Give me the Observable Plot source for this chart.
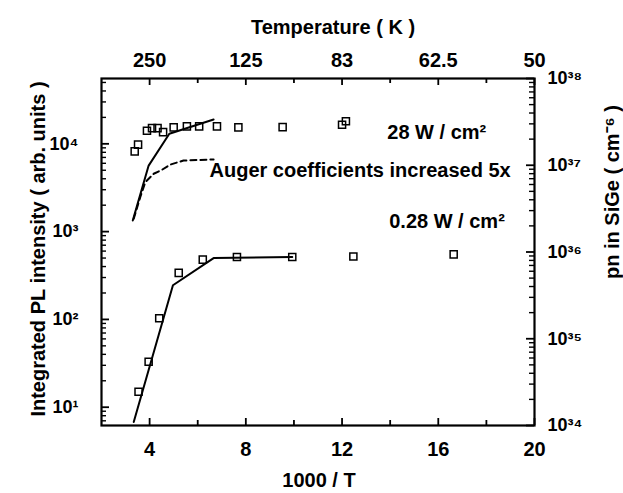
<!DOCTYPE html>
<html><head><meta charset="utf-8">
<script src="https://cdn.jsdelivr.net/npm/d3@7"></script>
<script src="https://cdn.jsdelivr.net/npm/@observablehq/plot@0.6"></script>
<style>
html,body{margin:0;padding:0;background:#fff;}
</style></head><body><div id="chart"></div>
<script>
// 28 W/cm2 measured points
const highX = [3.38, 3.52, 3.89, 4.10, 4.33, 4.56, 5.00, 5.55, 6.06, 6.80, 7.69, 9.53, 12.00, 12.16];
const highY = [8200, 9800, 14100, 15100, 15100, 13600, 15400, 15800, 15800, 15800, 15400, 15500, 16500, 18100];
// 0.28 W/cm2 measured points
const lowX = [3.54, 3.96, 4.40, 5.21, 6.21, 7.63, 9.93, 12.47, 16.64];
const lowY = [15, 33, 103, 339, 480, 513, 513, 520, 550];
// model curves
const highFitX = [3.30, 3.96, 4.82, 6.66];
const highFitY = [1340, 5650, 13000, 18900];
const augerX = [3.34, 3.61, 3.82, 4.17, 4.51, 4.86, 5.41, 6.66];
const augerY = [1400, 2470, 3650, 4560, 5050, 5800, 6450, 6640];
const lowFitX = [3.34, 4.97, 6.66, 9.93];
const lowFitY = [6.8, 245, 500, 513];
// axes
const xMajor = [4, 8, 12, 16, 20];
const xMinor = [6, 10, 14, 18];
const xLabels = ["4", "8", "12", "16", "20"];
const tempLabels = ["250", "125", "83", "62.5", "50"];
const yMajor = [10, 100, 1000, 10000];
const yLabels = ["10¹", "10²", "10³", "10⁴"];
const pnMajor = [1e34, 1e35, 1e36, 1e37, 1e38];
const pnLabels = ["10³⁴", "10³⁵", "10³⁶", "10³⁷", "10³⁸"];
const notes = ["28 W / cm²", "Auger coefficients increased 5x", "0.28 W / cm²"];
const noteX = [13.88, 6.49, 13.96];
const noteY = [13450, 4960, 1303];

const W = 623, H = 493, mL = 101, mR = 89, mT = 78, mB = 68;
const xDomain = [2, 20];
const yDomain = [6.19, 55460];
const pnDomain = [1e34, 1e38];
const lo = Math.log10(yDomain[0]), hi = Math.log10(yDomain[1]);
const pnToY = v => Math.pow(10, lo + (Math.log10(v) - 34) / 4 * (hi - lo));

// tick lengths expressed in data units
const pxX = (W - mL - mR) / (xDomain[1] - xDomain[0]);
const pxDec = (H - mT - mB) / (hi - lo);
const up = px => Math.pow(10, px / pxDec);

const rows = (xs, ys) => xs.map((x, i) => ({x, y: ys[i]}));
const yAll = d3.scaleLog().domain(yDomain).ticks();
const yMinor = yAll.filter(v => !yMajor.includes(v));
const pnAll = d3.scaleLog().domain(pnDomain).ticks();
const pnMinor = pnAll.filter(v => !pnMajor.some(m => Math.abs(m - v) / m < 1e-9));
const pnMajorY = pnMajor.map(pnToY);
const pnMinorY = pnMinor.map(pnToY);

const F = {fontSize: 20, fontWeight: "bold"};
const S = {fontSize: 18, fontWeight: "bold"};
const K = {stroke: "#000", strokeWidth: 1.8};
const k = {stroke: "#000", strokeWidth: 1.4};

const chart = Plot.plot({
  width: W, height: H,
  marginLeft: mL, marginRight: mR, marginTop: mT, marginBottom: mB,
  style: {fontFamily: "'Liberation Sans', Arial, sans-serif", background: "#fff", color: "#000"},
  x: {domain: xDomain, label: null, axis: null},
  y: {type: "log", domain: yDomain, label: null, axis: null},
  marks: [
    Plot.frame({stroke: "#000", strokeWidth: 2.2}),
    // data
    Plot.line(rows(highFitX, highFitY), {x: "x", y: "y", stroke: "#000", strokeWidth: 2}),
    Plot.line(rows(augerX, augerY), {x: "x", y: "y", stroke: "#000", strokeWidth: 2, strokeDasharray: "6,4"}),
    Plot.line(rows(lowFitX, lowFitY), {x: "x", y: "y", stroke: "#000", strokeWidth: 2}),
    Plot.dot(rows(highX, highY), {x: "x", y: "y", symbol: "square", r: 4, stroke: "#000", strokeWidth: 1.5, fill: "none"}),
    Plot.dot(rows(lowX, lowY), {x: "x", y: "y", symbol: "square", r: 4, stroke: "#000", strokeWidth: 1.5, fill: "none"}),
    // annotations
    Plot.text(notes.map((t, i) => ({t, x: noteX[i], y: noteY[i]})), {x: "x", y: "y", text: "t", textAnchor: "start", ...F}),
    // tick labels
    Plot.text(xMajor, {x: d => d, text: (d, i) => xLabels[i], frameAnchor: "bottom", lineAnchor: "top", dy: 16, ...F}),
    Plot.text(xMajor, {x: d => d, text: (d, i) => tempLabels[i], frameAnchor: "top", lineAnchor: "bottom", dy: -12, ...F}),
    Plot.text(yMajor, {y: d => d, text: (d, i) => yLabels[i], frameAnchor: "left", textAnchor: "end", dx: -23, ...S}),
    Plot.text(pnMajorY, {y: d => d, text: (d, i) => pnLabels[i], frameAnchor: "right", textAnchor: "start", dx: 13, ...S}),
    // axis titles
    Plot.text(["Temperature ( K )"], {text: d => d, frameAnchor: "top", textAnchor: "middle", dx: 15, dy: -59, ...F}),
    Plot.text(["1000 / T"], {text: d => d, frameAnchor: "bottom", textAnchor: "middle", dx: 1, dy: 61, ...F}),
    Plot.text(["Integrated PL intensity ( arb. units )"], {text: d => d, frameAnchor: "left", textAnchor: "middle", rotate: -90, dx: -63, dy: -3, ...F}),
    Plot.text(["pn in SiGe ( cm⁻⁶ )"], {text: d => d, frameAnchor: "right", textAnchor: "middle", rotate: -90, dx: 78, dy: -60, ...F}),
    // inward ticks: bottom / top (drawn last)
    Plot.ruleX(xMajor, {x: d => d, y1: yDomain[0], y2: yDomain[0] * up(7), ...K}),
    Plot.ruleX(xMinor, {x: d => d, y1: yDomain[0], y2: yDomain[0] * up(5), ...K}),
    Plot.ruleX(xMajor, {x: d => d, y1: yDomain[1], y2: yDomain[1] / up(7), ...K}),
    Plot.ruleX(xMinor, {x: d => d, y1: yDomain[1], y2: yDomain[1] / up(5), ...K}),
    // left / right
    Plot.ruleY(yMajor, {y: d => d, x1: xDomain[0], x2: xDomain[0] + 8 / pxX, ...K}),
    Plot.ruleY(yMinor, {y: d => d, x1: xDomain[0], x2: xDomain[0] + 5 / pxX, ...k}),
    Plot.ruleY(pnMajorY, {y: d => d, x1: xDomain[1], x2: xDomain[1] - 8 / pxX, ...K}),
    Plot.ruleY(pnMinorY, {y: d => d, x1: xDomain[1], x2: xDomain[1] - 5 / pxX, ...k})
  ]
});
document.getElementById("chart").appendChild(chart);
</script>
</body></html>
